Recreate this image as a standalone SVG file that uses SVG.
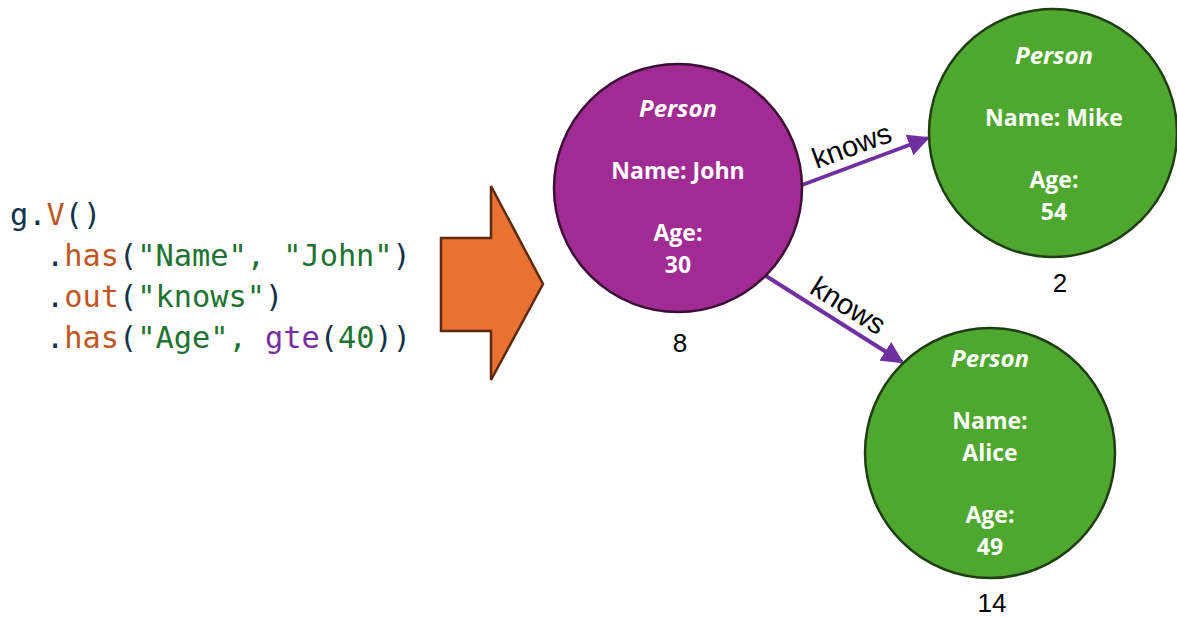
<svg xmlns="http://www.w3.org/2000/svg" width="1177" height="617" viewBox="0 0 1177 617">
  <style>
    .code { font-family: "DejaVu Sans Mono", "Liberation Mono", monospace; font-size: 30.3px; }
    .ink { fill: #12314A; }
    .fn { fill: #C0561F; }
    .str { fill: #217232; }
    .op { fill: #7A2DA0; }
    .person { font-family: "Open Sans", "Liberation Sans", sans-serif; font-weight: bold; font-style: italic; font-size: 24px; fill: #fff; text-anchor: middle; }
    .prop { font-family: "Open Sans", "Liberation Sans", sans-serif; font-weight: bold; font-size: 23px; fill: #fff; text-anchor: middle; }
    .id { font-family: "Liberation Sans", Arial, sans-serif; font-size: 26px; fill: #000; text-anchor: middle; }
    .edge { stroke: #7030A0; stroke-width: 4; fill: none; }
    .elabel { font-family: "Liberation Sans", Arial, sans-serif; font-size: 29px; fill: #000; text-anchor: middle; }
    .hub { fill: #A02B93; stroke: #3B0F36; stroke-width: 2.5; }
    .leaf { fill: #4EA72E; stroke: #1F3D12; stroke-width: 2.5; }
  </style>
  <defs>
    <marker id="arrow" viewBox="0 0 10 10" refX="9" refY="5" markerWidth="5.5" markerHeight="5.5" markerUnits="strokeWidth" orient="auto">
      <path d="M0,0 L10,5 L0,10 Z" fill="#7030A0"/>
    </marker>
  </defs>

  <!-- query -->
  <g id="query" class="code">
    <text x="10" y="225"><tspan class="ink">g.</tspan><tspan class="fn">V</tspan><tspan class="ink">()</tspan></text>
    <text x="46" y="266"><tspan class="ink">.</tspan><tspan class="fn">has</tspan><tspan class="ink">(</tspan><tspan class="str">"Name", "John"</tspan><tspan class="ink">)</tspan></text>
    <text x="46" y="307"><tspan class="ink">.</tspan><tspan class="fn">out</tspan><tspan class="ink">(</tspan><tspan class="str">"knows"</tspan><tspan class="ink">)</tspan></text>
    <text x="46" y="348"><tspan class="ink">.</tspan><tspan class="fn">has</tspan><tspan class="ink">(</tspan><tspan class="str">"Age", </tspan><tspan class="op">gte</tspan><tspan class="ink">(</tspan><tspan class="str">40</tspan><tspan class="ink">))</tspan></text>
  </g>

  <!-- block arrow -->
  <g id="flow-arrow">
    <path d="M441,238 L491,238 L491,186 L543,284 L491,380 L491,331 L441,331 Z" fill="#E97132" stroke="#5E2A0E" stroke-width="2.5" stroke-linejoin="miter"/>
  </g>

  <!-- connectors -->
  <g id="edges">
    <line class="edge" x1="802" y1="185" x2="928" y2="138" marker-end="url(#arrow)"/>
    <text class="elabel" transform="translate(855,155) rotate(-20)">knows</text>
    <line class="edge" x1="766" y1="276" x2="902" y2="362" marker-end="url(#arrow)"/>
    <text class="elabel" transform="translate(843,314) rotate(32)">knows</text>
  </g>

  <!-- vertex 8 -->
  <g id="john">
    <circle class="hub" cx="678" cy="188" r="124"/>
    <text class="person" x="678" y="117">Person</text>
    <text class="prop" x="678" y="179">Name: John</text>
    <text class="prop" x="678" y="241">Age:</text>
    <text class="prop" x="678" y="273">30</text>
    <text class="id" x="680" y="352">8</text>
  </g>

  <!-- vertex 2 -->
  <g id="mike">
    <circle class="leaf" cx="1053" cy="133" r="124"/>
    <text class="person" x="1054" y="64">Person</text>
    <text class="prop" x="1054" y="126">Name: Mike</text>
    <text class="prop" x="1054" y="188">Age:</text>
    <text class="prop" x="1054" y="220">54</text>
    <text class="id" x="1060" y="292">2</text>
  </g>

  <!-- vertex 14 -->
  <g id="alice">
    <circle class="leaf" cx="990" cy="453" r="125"/>
    <text class="person" x="990" y="367">Person</text>
    <text class="prop" x="990" y="429">Name:</text>
    <text class="prop" x="990" y="461">Alice</text>
    <text class="prop" x="990" y="523">Age:</text>
    <text class="prop" x="990" y="555">49</text>
    <text class="id" x="992" y="612">14</text>
  </g>
</svg>
